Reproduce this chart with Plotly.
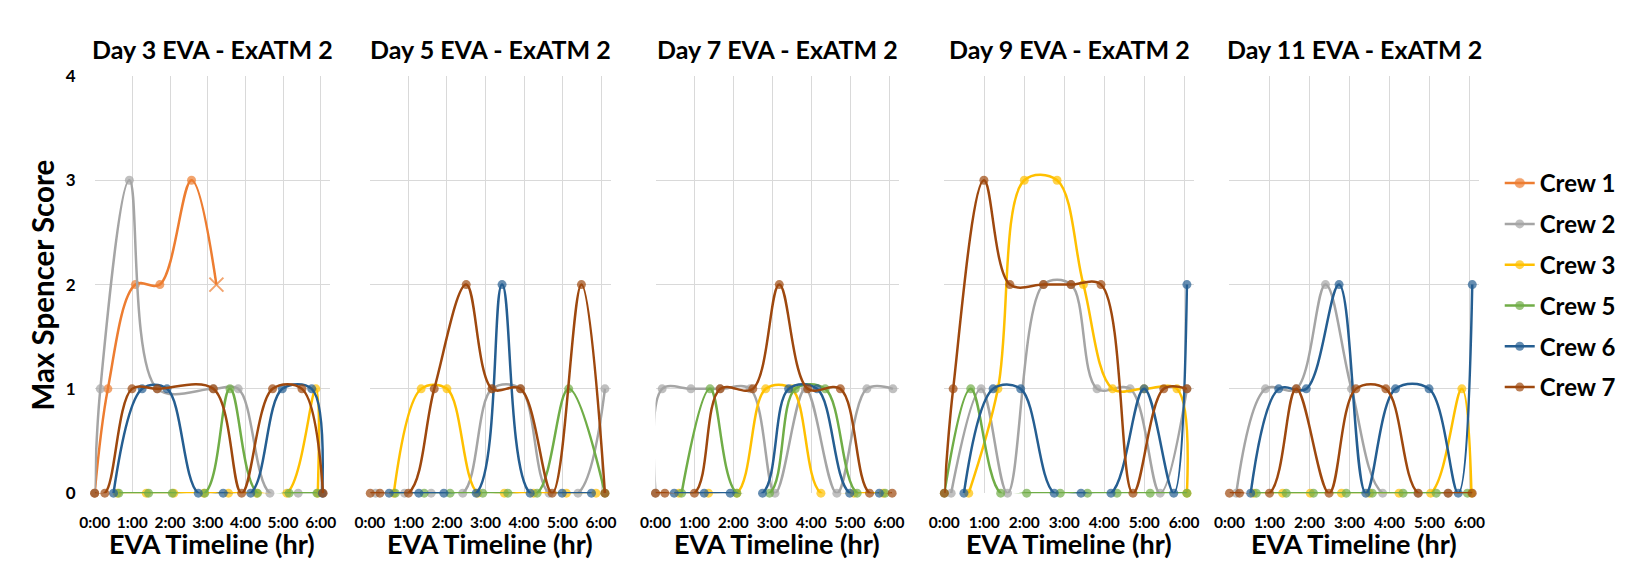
import plotly.graph_objects as go

# ---------------- data (hours since EVA start, max Spencer score) ----------------
DAYS = ["Day 3 EVA - ExATM 2", "Day 5 EVA - ExATM 2", "Day 7 EVA - ExATM 2",
        "Day 9 EVA - ExATM 2", "Day 11 EVA - ExATM 2"]
CREWS = ["Crew 1", "Crew 2", "Crew 3", "Crew 5", "Crew 6", "Crew 7"]
COLORS = ["#ED7D31", "#A5A5A5", "#FFC000", "#70AD47", "#255E91", "#9E480E"]
TICK_HOURS = [0, 1, 2, 3, 4, 5, 6]
TICK_LABELS = ["0:00", "1:00", "2:00", "3:00", "4:00", "5:00", "6:00"]
Y_TICKS = [0, 1, 2, 3, 4]

# Day 3
D3_C1_T = [0, 0.35, 1.08, 1.73, 2.57, 3.23]
D3_C1_S = [0, 1, 2, 2, 3, 2]
D3_C2_T = [0, 0.15, 0.92, 1.66, 3.15, 3.81, 4.65, 5.4, 6.06]
D3_C2_S = [0, 1, 3, 1, 1, 1, 0, 0, 0]
D3_C3_T = [0.6, 1.37, 2.1, 2.9, 3.55, 4.3, 5.1, 5.87, 5.92]
D3_C3_S = [0, 0, 0, 0, 0, 0, 0, 1, 0]
D3_C5_T = [0.64, 1.43, 2.06, 2.92, 3.59, 4.32, 5.16, 5.9]
D3_C5_S = [0, 0, 0, 0, 1, 0, 0, 0]
D3_C6_T = [0.5, 1.26, 1.92, 2.75, 3.41, 4.14, 4.98, 5.76, 6.04]
D3_C6_S = [0, 1, 1, 0, 0, 0, 1, 1, 0]
D3_C7_T = [0, 0.27, 0.99, 1.66, 3.15, 3.9, 4.72, 5.5, 6.06]
D3_C7_S = [0, 0, 1, 1, 1, 0, 1, 1, 0]

# Day 5
D5_C2_T = [0.15, 0.9, 1.59, 2.41, 3.17, 3.91, 4.65, 5.4, 6.1]
D5_C2_S = [0, 0, 0, 0, 1, 1, 0, 0, 1]
D5_C3_T = [0.62, 1.33, 2.0, 2.8, 3.49, 4.25, 5.1, 5.87]
D5_C3_S = [0, 1, 1, 0, 0, 0, 0, 0]
D5_C5_T = [0.66, 1.41, 2.08, 2.93, 3.58, 4.34, 5.16, 6.1]
D5_C5_S = [0, 0, 0, 0, 0, 0, 1, 0]
D5_C6_T = [0.5, 1.27, 1.92, 2.76, 3.43, 4.16, 4.99, 5.75]
D5_C6_S = [0, 0, 0, 0, 2, 0, 0, 0]
D5_C7_T = [0.01, 0.26, 1.0, 1.67, 2.5, 3.17, 3.91, 4.73, 5.49, 6.1]
D5_C7_S = [0, 0, 0, 1, 2, 1, 1, 0, 2, 0]

# Day 7
D7_C2_T = [0, 0.17, 0.91, 1.66, 2.43, 3.07, 3.85, 4.66, 5.43, 6.1]
D7_C2_S = [0, 1, 1, 1, 1, 0, 1, 0, 1, 1]
D7_C3_T = [0.6, 1.36, 2.09, 2.83, 3.5, 4.25, 5.1, 5.85]
D7_C3_S = [0, 0, 0, 1, 1, 0, 0, 0]
D7_C5_T = [0.67, 1.4, 2.09, 2.93, 3.59, 4.36, 5.18, 5.9]
D7_C5_S = [0, 1, 0, 0, 1, 1, 0, 0]
D7_C6_T = [0.48, 1.25, 1.92, 2.75, 3.42, 4.15, 4.99, 5.75]
D7_C6_S = [0, 0, 0, 0, 1, 1, 0, 0]
D7_C7_T = [0, 0.24, 1.0, 1.66, 2.5, 3.18, 3.91, 4.75, 5.5, 6.08]
D7_C7_S = [0, 0, 0, 1, 1, 2, 1, 1, 0, 0]

# Day 9
D9_C2_T = [0.17, 0.92, 1.58, 2.48, 3.17, 3.82, 4.65, 5.4, 6.07]
D9_C2_S = [0, 1, 0, 2, 2, 1, 1, 0, 1]
D9_C3_T = [0.61, 1.34, 2.0, 2.82, 3.48, 4.21, 5.0, 5.82, 6.07]
D9_C3_S = [0, 1, 3, 3, 2, 1, 1, 1, 0]
D9_C5_T = [0, 0.66, 1.41, 2.06, 2.9, 3.58, 4.32, 5.15, 6.07]
D9_C5_S = [0, 1, 0, 0, 0, 0, 0, 0, 0]
D9_C6_T = [0.49, 1.22, 1.91, 2.75, 3.42, 4.17, 5.0, 5.74, 6.07]
D9_C6_S = [0, 1, 1, 0, 0, 0, 1, 0, 2]
D9_C7_T = [0, 0.22, 0.99, 1.64, 2.48, 3.17, 3.92, 4.72, 5.49, 6.07]
D9_C7_S = [0, 1, 3, 2, 2, 2, 2, 0, 1, 1]

# Day 11
D11_C2_T = [0.17, 0.9, 1.67, 2.4, 3.05, 3.83, 4.71, 5.46]
D11_C2_S = [0, 1, 1, 2, 1, 0, 0, 0]
D11_C3_T = [0.6, 1.33, 2.02, 2.8, 3.5, 4.24, 5.03, 5.81, 6.05]
D11_C3_S = [0, 0, 0, 0, 0, 0, 0, 1, 0]
D11_C5_T = [0.67, 1.42, 2.1, 2.92, 3.57, 4.34, 5.17, 5.95]
D11_C5_S = [0, 0, 0, 0, 0, 0, 0, 0]
D11_C6_T = [0.53, 1.23, 1.92, 2.74, 3.41, 4.15, 4.99, 5.72, 6.07]
D11_C6_S = [0, 1, 1, 2, 0, 1, 1, 0, 2]
D11_C7_T = [0, 0.25, 1.0, 1.67, 2.49, 3.16, 3.91, 4.72, 5.47, 6.07]
D11_C7_S = [0, 0, 0, 1, 0, 1, 1, 0, 0, 0]

PANELS = [
    {"Crew 1": (D3_C1_T, D3_C1_S), "Crew 2": (D3_C2_T, D3_C2_S), "Crew 3": (D3_C3_T, D3_C3_S),
     "Crew 5": (D3_C5_T, D3_C5_S), "Crew 6": (D3_C6_T, D3_C6_S), "Crew 7": (D3_C7_T, D3_C7_S)},
    {"Crew 2": (D5_C2_T, D5_C2_S), "Crew 3": (D5_C3_T, D5_C3_S),
     "Crew 5": (D5_C5_T, D5_C5_S), "Crew 6": (D5_C6_T, D5_C6_S), "Crew 7": (D5_C7_T, D5_C7_S)},
    {"Crew 2": (D7_C2_T, D7_C2_S), "Crew 3": (D7_C3_T, D7_C3_S),
     "Crew 5": (D7_C5_T, D7_C5_S), "Crew 6": (D7_C6_T, D7_C6_S), "Crew 7": (D7_C7_T, D7_C7_S)},
    {"Crew 2": (D9_C2_T, D9_C2_S), "Crew 3": (D9_C3_T, D9_C3_S),
     "Crew 5": (D9_C5_T, D9_C5_S), "Crew 6": (D9_C6_T, D9_C6_S), "Crew 7": (D9_C7_T, D9_C7_S)},
    {"Crew 2": (D11_C2_T, D11_C2_S), "Crew 3": (D11_C3_T, D11_C3_S),
     "Crew 5": (D11_C5_T, D11_C5_S), "Crew 6": (D11_C6_T, D11_C6_S), "Crew 7": (D11_C7_T, D11_C7_S)},
]

# ---------------- layout geometry ----------------
# Target positions are given in picture pixels; the rendered page shows the
# figure slightly offset and scaled, so targets are mapped back to figure px.
W, H = 1639, 562
TX, SX = 13.2, 0.985
TY, SY = 7.7, 0.9757
PANEL_PX = [(92.7, 327.7), (367.3, 607.6), (652.3, 895.0), (940.5, 1189.7), (1225.0, 1474.4)]
Y_TOP_PX, Y_BOT_PX = 73.6, 496.4
FONT = "Lato"

def fx(p):
    return (p - TX) / SX

def fy(p):
    return (p - TY) / SY

def px_x(p):
    return fx(p) / W

def px_y(p):
    return 1 - fy(p) / H

fig = go.Figure()
shown = set()
for i, panel in enumerate(PANELS):
    ax = "" if i == 0 else str(i + 1)
    for crew, color in zip(CREWS, COLORS):
        if crew not in panel:
            continue
        t, s = panel[crew]
        symbols = ["circle"] * len(t)
        lw = [0] * len(t)
        sizes = [9] * len(t)
        if crew == "Crew 1" and i == 0:
            symbols[-1] = "x-thin-open"
            lw[-1] = 2
            sizes[-1] = 14
        fig.add_trace(go.Scatter(
            x=t, y=s, mode="lines+markers", name=crew,
            legendgroup=crew, showlegend=crew not in shown,
            legendrank=CREWS.index(crew),
            line=dict(color=color, width=2.5, shape="spline", smoothing=1),
            marker=dict(color=color, size=sizes, symbol=symbols,
                        line=dict(color=color, width=lw)),
            cliponaxis=False,
            xaxis="x" + ax, yaxis="y" + ax,
        ))
        shown.add(crew)

layout = dict(
    width=W, height=H, autosize=False,
    margin=dict(l=0, r=0, t=0, b=0),
    paper_bgcolor="white", plot_bgcolor="white",
    font=dict(family=FONT, color="black"),
    showlegend=True,
    legend=dict(x=1504 / W, y=1 - 155.8 / H, xanchor="left", yanchor="top",
                font=dict(family=FONT, size=24, color="black", weight="bold"),
                tracegroupgap=6.6, itemwidth=30, bgcolor="rgba(0,0,0,0)"),
)
annotations = []
for i, (x0, x1) in enumerate(PANEL_PX):
    ax = "" if i == 0 else str(i + 1)
    layout["xaxis" + ax] = dict(
        domain=[px_x(x0), px_x(x1)], range=[0, 6.25], anchor="y" + ax,
        tickvals=TICK_HOURS, ticktext=TICK_LABELS,
        showgrid=True, gridcolor="#D9D9D9", gridwidth=1,
        zeroline=False, showline=False, ticks="",
        ticklabelstandoff=18,
        tickfont=dict(family=FONT, size=15.5, color="black", weight="bold"),
    )
    layout["yaxis" + ax] = dict(
        domain=[px_y(Y_BOT_PX), px_y(Y_TOP_PX)], range=[0, 4], anchor="x" + ax,
        tickvals=Y_TICKS, showticklabels=(i == 0),
        showgrid=True, gridcolor="#D9D9D9", gridwidth=1,
        zeroline=False, showline=False, ticks="",
        ticklabelstandoff=18,
        tickfont=dict(family=FONT, size=17, color="black", weight="bold"),
    )
    cx = (x0 + x1) / 2
    annotations.append(dict(text=DAYS[i], x=px_x(cx), y=px_y(45.8), xref="paper", yref="paper",
                            xanchor="center", yanchor="middle", showarrow=False,
                            font=dict(family=FONT, size=25, color="black", weight="bold")))
    annotations.append(dict(text="EVA Timeline (hr)", x=px_x(cx), y=px_y(547.5), xref="paper", yref="paper",
                            xanchor="center", yanchor="middle", showarrow=False,
                            font=dict(family=FONT, size=27, color="black", weight="bold")))

annotations.append(dict(text="Max Spencer Score", x=px_x(41), y=px_y(285), xref="paper", yref="paper",
                        xanchor="center", yanchor="middle", showarrow=False, textangle=-90,
                        font=dict(family=FONT, size=29.5, color="black", weight="bold")))
layout["annotations"] = annotations
fig.update_layout(**layout)
fig.write_html("out.html")
